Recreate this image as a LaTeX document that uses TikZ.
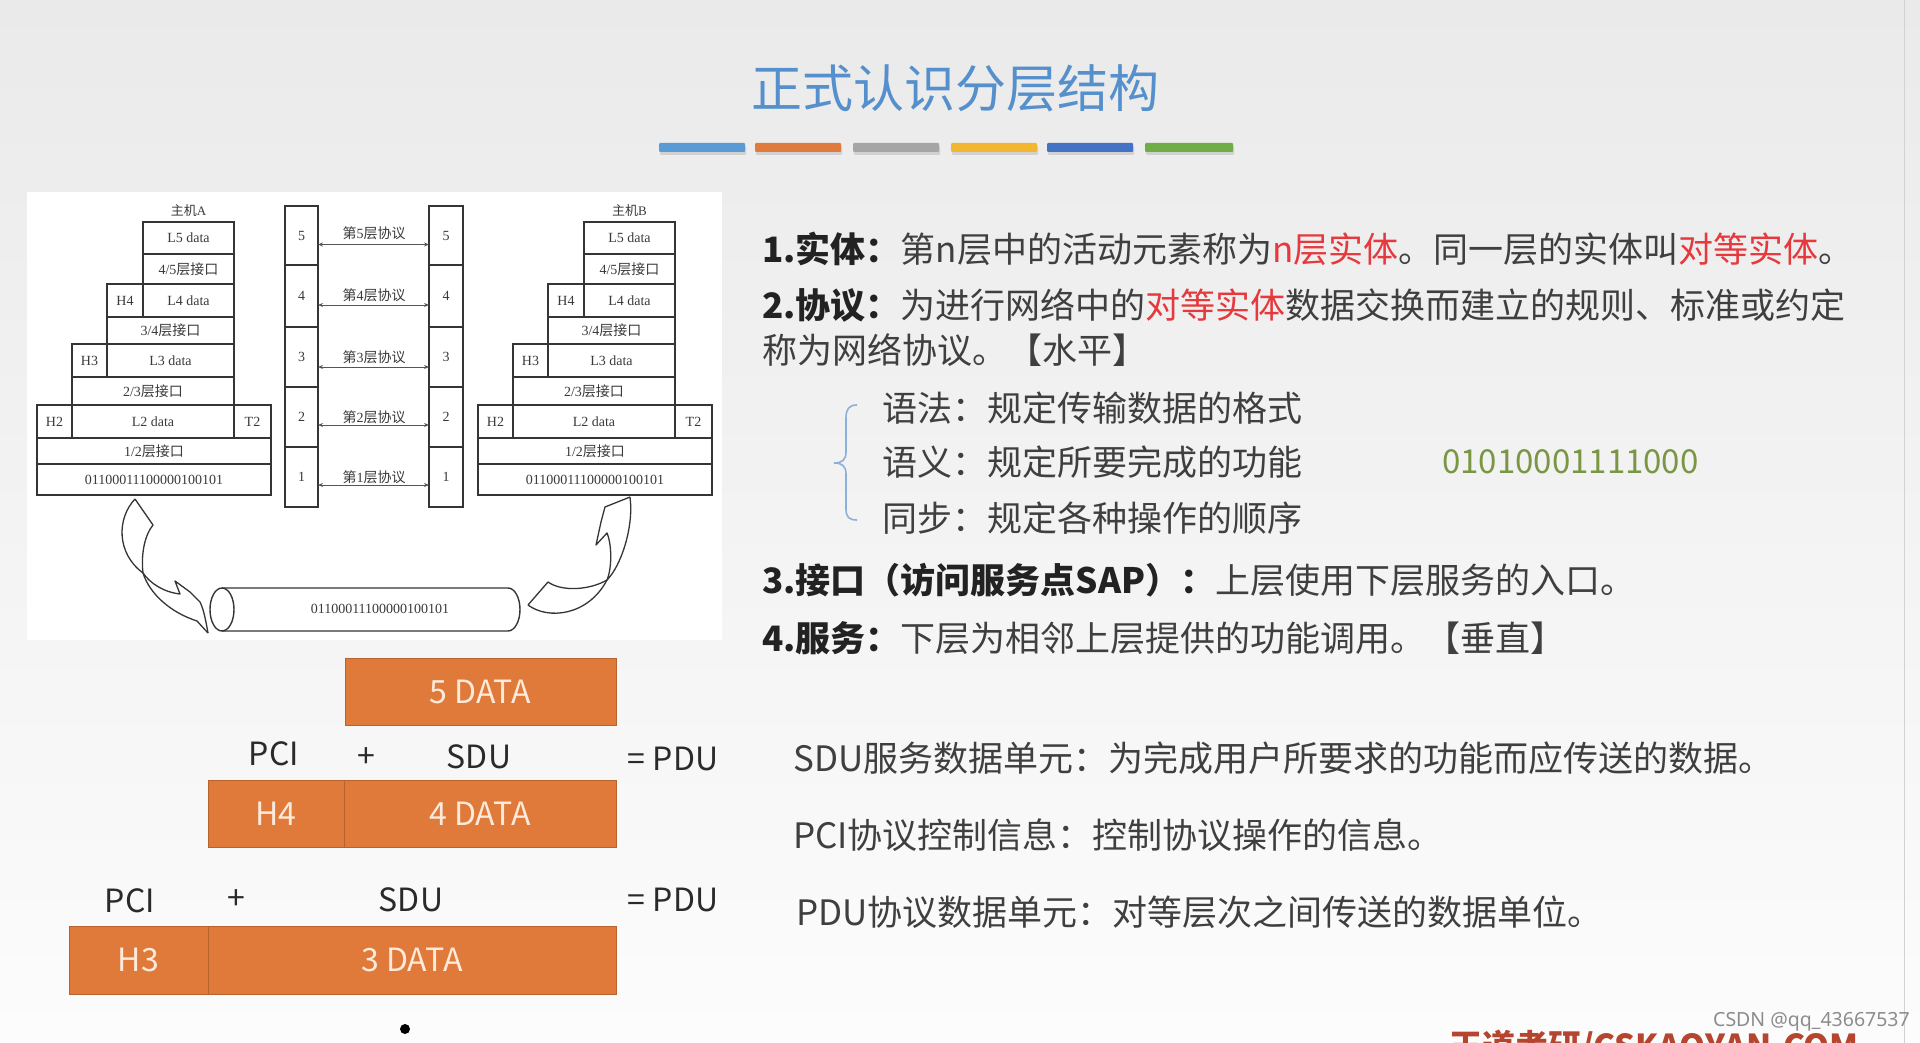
\documentclass[tikz,border=0pt]{standalone}
\usepackage{fontspec}
\setmainfont{Noto Sans CJK SC}
\newfontfamily\dserif{Liberation Serif}
\newfontfamily\wmfont{Noto Sans}
\usetikzlibrary{arrows.meta}
\definecolor{bodyC}{HTML}{3F3F3F}
\definecolor{boldC}{HTML}{222222}
\definecolor{hlred}{HTML}{E5393D}
\definecolor{greenC}{HTML}{7A9642}
\definecolor{titleC}{HTML}{5690CC}
\definecolor{orangeC}{HTML}{E07A3A}
\definecolor{oborder}{HTML}{B8622E}
\definecolor{creamC}{HTML}{FDEADA}
\definecolor{lineC}{HTML}{353535}
\definecolor{dtext}{HTML}{3A3A3A}
\definecolor{protoC}{HTML}{555555}
\definecolor{pduC}{HTML}{2A2A2A}
\definecolor{braceC}{HTML}{8DB0DA}
\definecolor{barA}{HTML}{5B9BD5}
\definecolor{barB}{HTML}{E07B3E}
\definecolor{barC}{HTML}{A5A5A5}
\definecolor{barD}{HTML}{F2B630}
\definecolor{barE}{HTML}{4472C4}
\definecolor{barF}{HTML}{70AD47}
\definecolor{bgtop}{HTML}{EAEAEA}
\definecolor{bgbot}{HTML}{FCFCFC}
\definecolor{wmC}{HTML}{8C8C8C}
\definecolor{brandC}{HTML}{B5452E}
\newcommand\dsf[1]{{\dserif #1}}
\newcommand\hl[1]{\textcolor{hlred}{#1}}
\newcommand\bl[1]{\textcolor{boldC}{\textbf{#1}}}
\newcommand\mybox[7]{%
  \pgfmathsetmacro\mycx{((#3)+(#5))/2}%
  \pgfmathsetmacro\mycy{((#4)+(#6))/2}%
  \pgfmathsetmacro\mycw{(#5)-(#3)}%
  \pgfmathsetmacro\mych{(#6)-(#4)}%
  \node[#1,minimum width=\mycw pt,minimum height=\mych pt] (#2) at (\mycx,\mycy) {#7};}
\newcommand\hoststack[3]{%
  \node[hostlbl] (#1lbl) at ({188.5+#2},211) {主机\dsf{#3}};
  \mybox{cellbox}{#1L5}{143+#2}{222}{234+#2}{254}{\dsf{L5 data}}
  \mybox{cellbox}{#1I45}{143+#2}{254}{234+#2}{284}{\dsf{4/5}层接口}
  \mybox{cellbox}{#1H4}{107+#2}{284}{143+#2}{317}{\dsf{H4}}
  \mybox{cellbox}{#1L4}{143+#2}{284}{234+#2}{317}{\dsf{L4 data}}
  \mybox{cellbox}{#1I34}{107+#2}{317}{234+#2}{344}{\dsf{3/4}层接口}
  \mybox{cellbox}{#1H3}{72+#2}{344}{107+#2}{377}{\dsf{H3}}
  \mybox{cellbox}{#1L3}{107+#2}{344}{234+#2}{377}{\dsf{L3 data}}
  \mybox{cellbox}{#1I23}{72+#2}{377}{234+#2}{405}{\dsf{2/3}层接口}
  \mybox{cellbox}{#1H2}{37+#2}{405}{72+#2}{438}{\dsf{H2}}
  \mybox{cellbox}{#1L2}{72+#2}{405}{234+#2}{438}{\dsf{L2 data}}
  \mybox{cellbox}{#1T2}{234+#2}{405}{271+#2}{438}{\dsf{T2}}
  \mybox{cellbox}{#1I12}{37+#2}{438}{271+#2}{464}{\dsf{1/2}层接口}
  \mybox{cellbox}{#1bits}{37+#2}{464}{271+#2}{495}{\dsf{01100011100000100101}}
}
\begin{document}
\begin{tikzpicture}[x=1pt,y=-1pt,
  cellbox/.style={draw=lineC,line width=1.4pt,fill=white,inner sep=0pt,outer sep=0pt,text=dtext,font=\fontsize{14}{16}\selectfont},
  hostlbl/.style={inner sep=0pt,text=dtext,font=\fontsize{13}{15}\selectfont},
  obox/.style={draw=oborder,line width=0.8pt,fill=orangeC,inner sep=0pt,outer sep=0pt,text=creamC,font=\fontsize{32}{38}\selectfont},
  txt/.style={anchor=west,inner sep=0pt,text=bodyC,font=\fontsize{35}{40}\selectfont},
  pdu/.style={inner sep=0pt,text=pduC,font=\fontsize{32}{38}\selectfont},
  plbl/.style={inner sep=0pt,text=dtext,font=\fontsize{14}{16}\selectfont},
  proto/.style={draw=protoC,line width=0.9pt,<->,>={Stealth[length=5pt,width=4pt]}},
  ribbon/.style={draw=lineC,line width=1.3pt,line join=round},
  bar/.style={rounded corners=1pt}
]
\useasboundingbox (0,0) rectangle (1920,1043);
% background
\shade[top color=bgtop,bottom color=bgbot] (0,0) rectangle (1920,1043);
\draw[gray!35,line width=1pt] (1904,0) -- (1904,1043);
% title
\node[inner sep=0pt,text=titleC,font=\fontsize{51}{60}\selectfont] (title) at (955,88) {正式认识分层结构};
% colour bars
\foreach \xa/\xb/\cc in {659/745/barA,755/841/barB,853/939/barC,951/1037/barD,1047/1133/barE,1145/1233/barF}{
  \fill[black!18,bar] (\xa+1,146) rectangle (\xb+1,155);
  \fill[\cc,bar] (\xa,143) rectangle (\xb,152);
}
% white panel
\fill[white] (27,192) rectangle (722,640);
% host stacks
\hoststack{A}{0}{A}
\hoststack{B}{441}{B}
% middle columns
\mybox{cellbox}{cl5}{285}{206}{318}{265}{\dsf{5}}
\mybox{cellbox}{cl4}{285}{265}{318}{327}{\dsf{4}}
\mybox{cellbox}{cl3}{285}{327}{318}{387}{\dsf{3}}
\mybox{cellbox}{cl2}{285}{387}{318}{447}{\dsf{2}}
\mybox{cellbox}{cl1}{285}{447}{318}{507}{\dsf{1}}
\mybox{cellbox}{cr5}{429}{206}{463}{265}{\dsf{5}}
\mybox{cellbox}{cr4}{429}{265}{463}{327}{\dsf{4}}
\mybox{cellbox}{cr3}{429}{327}{463}{387}{\dsf{3}}
\mybox{cellbox}{cr2}{429}{387}{463}{447}{\dsf{2}}
\mybox{cellbox}{cr1}{429}{447}{463}{507}{\dsf{1}}
\foreach \i/\ly/\dy in {5/233/9,4/295/9,3/357/10,2/417/8,1/477/8}{
  \node[plbl] (p\i) at (374,\ly) {第\dsf{\i}层协议};
  \draw[proto] ([yshift=-\dy pt]cl\i.east) -- ([yshift=-\dy pt]cr\i.west);
}
% cylinder
\draw[lineC,line width=1.4pt,fill=white] (222,588) -- (508,588) arc[start angle=90,end angle=-90,x radius=12pt,y radius=21.5pt] -- (222,631);
\draw[lineC,line width=1.4pt,fill=white] (222,609.5) ellipse [x radius=12pt,y radius=21.5pt];
\node[inner sep=0pt,text=dtext,font=\fontsize{14}{16}\selectfont] (cyltext) at (380,609) {\dsf{01100011100000100101}};
% left ribbon arrow (host A down to medium)
\draw[ribbon] (135,499) .. controls (117,518) and (116,553) .. (143,573)
  .. controls (150,583) and (163,592) .. (180,594) -- (175,581) -- (190,592) -- (200,602)
  .. controls (204,610) and (206,622) .. (208,633);
\draw[ribbon] (135,499) -- (153,525) .. controls (144,536) and (141,556) .. (143,573)
  .. controls (150,595) and (172,613) .. (197,621) -- (208,633);
% right ribbon arrow (medium up to host B)
\draw[ribbon] (528,605) -- (548,582) .. controls (562,592) and (590,590) .. (607,580)
  .. controls (612,568) and (612,545) .. (607,533) -- (596,545) -- (601,522) -- (605,507) -- (630,497);
\draw[ribbon] (528,605) .. controls (548,620) and (588,616) .. (607,580)
  .. controls (621,566) and (634,527) .. (630,497);
% numbered definitions
\node[txt] (t1) at (762,249) {\bl{1.实体：}第n层中的活动元素称为\hl{n层实体}。同一层的实体叫\hl{对等实体}。};
\node[txt] (t2) at (762,305) {\bl{2.协议：}为进行网络中的\hl{对等实体}数据交换而建立的规则、标准或约定};
\node[txt] (t3) at (762,350) {称为网络协议。【水平】};
\draw[braceC,line width=1.6pt] (857,405) .. controls (849,405) and (846,409) .. (846,418) -- (846,452)
  .. controls (846,460) and (842,463) .. (834,463) .. controls (842,463) and (846,466) .. (846,474)
  -- (846,509) .. controls (846,517) and (849,520) .. (857,520);
\node[txt] (s1) at (882,408) {语法：规定传输数据的格式};
\node[txt] (s2) at (882,462) {语义：规定所要完成的功能};
\node[txt] (s3) at (882,518) {同步：规定各种操作的顺序};
\node[txt,text=greenC,font=\fontsize{33}{40}\selectfont] (bits) at (1442,462) {01010001111000};
\node[txt] (t4) at (762,580) {\bl{3.接口（访问服务点SAP）：}上层使用下层服务的入口。};
\node[txt] (t5) at (762,638) {\bl{4.服务：}下层为相邻上层提供的功能调用。【垂直】};
% PDU construction
\mybox{obox}{d5}{345}{658}{616}{725}{5 DATA}
\node[pdu] (pci1) at (274,754) {PCI};
\node[pdu] (plus1) at (366,758) {+};
\node[pdu] (sdu1) at (479,757) {SDU};
\node[pdu] (pdu1) at (673,759) {= PDU};
\mybox{obox}{h4}{208}{780}{344}{847}{H4}
\mybox{obox}{d4}{344}{780}{616}{847}{4 DATA}
\node[pdu] (pci2) at (130,901) {PCI};
\node[pdu] (plus2) at (236,900) {+};
\node[pdu] (sdu2) at (411,900) {SDU};
\node[pdu] (pdu2) at (673,900) {= PDU};
\mybox{obox}{h3}{69}{926}{208}{994}{H3}
\mybox{obox}{d3}{208}{926}{616}{994}{3 DATA}
\fill[black] (405,1029) circle[radius=5pt];
\fill[black] (405,1049) circle[radius=5pt];
% term definitions
\node[txt] (r1) at (793,758) {SDU服务数据单元：为完成用户所要求的功能而应传送的数据。};
\node[txt] (r2) at (793,835) {PCI协议控制信息：控制协议操作的信息。};
\node[txt] (r3) at (796,912) {PDU协议数据单元：对等层次之间传送的数据单位。};
% footer
\node[anchor=west,inner sep=0pt,text=wmC,font=\wmfont\fontsize{19.5}{22}\selectfont] (wm) at (1713,1022) {CSDN @qq\_43667537};
\node[anchor=base west,inner sep=0pt,text=brandC,font=\bfseries\fontsize{33}{38}\selectfont] (brand) at (1449,1058) {王道考研/CSKAOYAN.COM};
\end{tikzpicture}
\end{document}
